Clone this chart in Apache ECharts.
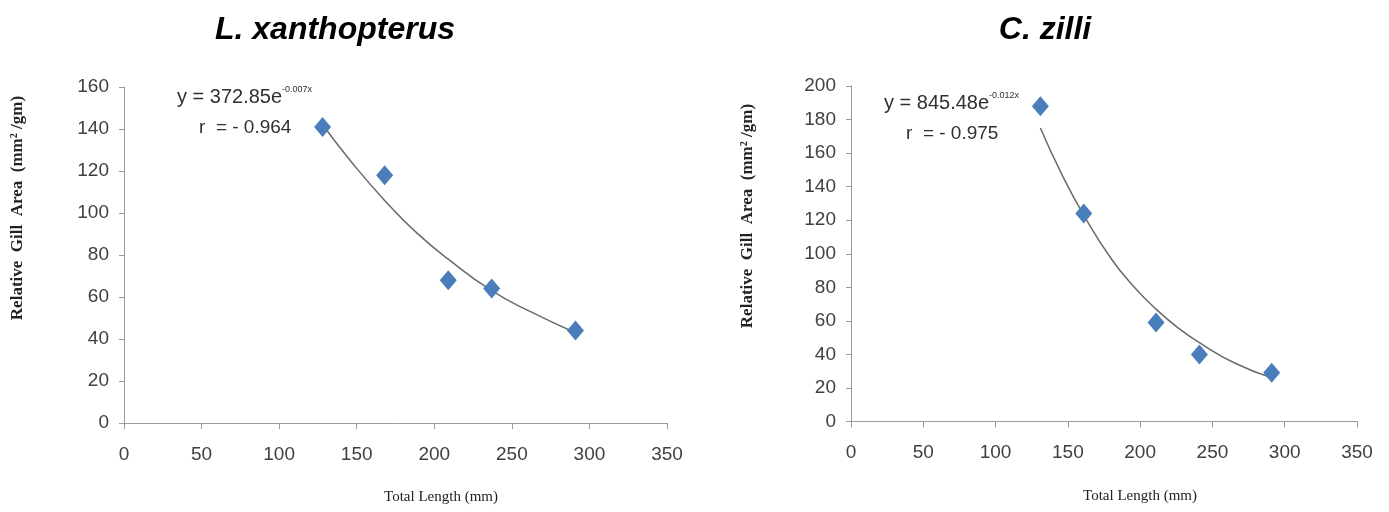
<!DOCTYPE html>
<html><head><meta charset="utf-8">
<script src="https://cdn.jsdelivr.net/npm/echarts@6/dist/echarts.min.js"></script>
<style>html,body{margin:0;padding:0;background:#fff}#c{width:1389px;height:512px}</style>
</head><body><div id="c"></div>
<script>
// L. xanthopterus
const lxLength = [128, 168, 209, 237, 291];
const lxArea   = [141, 118, 68, 64, 44];
const lxFitLength = [128, 148, 168, 188, 209, 237, 262, 291];
const lxFitArea   = [142, 123, 106, 91, 78, 63, 53, 43];
// C. zilli
const czLength = [131, 161, 211, 241, 291];
const czArea   = [188, 124, 59, 40, 29];
const czFitLength = [131, 146, 161, 180, 196, 211, 226, 241, 265, 291];
const czFitArea   = [175, 147, 123, 97, 80, 67, 56, 47, 35, 26];

const titles = ['L. xanthopterus', 'C. zilli'];
const equations = [['y = 372.85e', '-0.007x', 'r  = - 0.964'], ['y = 845.48e', '-0.012x', 'r  = - 0.975']];
const xName = 'Total Length (mm)';
const yName = 'Relative  Gill  Area  (mm\u00B2 /gm)';

const pairs = (xs, ys) => xs.map((x, i) => [x, ys[i]]);

const tickFont = {fontFamily: 'Liberation Sans', fontSize: 19, color: '#404040'};
const axisColor = '#9a9a9a';

function xAxisCfg(gi) {
  return {
    type: 'value', gridIndex: gi, min: 0, max: 350, interval: 50,
    axisLine: {show: true, lineStyle: {color: axisColor, width: 1}},
    axisTick: {show: true, length: 6, lineStyle: {color: axisColor}},
    splitLine: {show: false},
    axisLabel: Object.assign({margin: 22}, tickFont)
  };
}
function yAxisCfg(gi, max) {
  return {
    type: 'value', gridIndex: gi, min: 0, max: max, interval: 20,
    axisLine: {show: true, lineStyle: {color: axisColor, width: 1}},
    axisTick: {show: true, length: 5, lineStyle: {color: axisColor}},
    splitLine: {show: false},
    axisLabel: Object.assign({margin: 15}, tickFont)
  };
}

function eqText(x, y, eq) {
  return [
    {type: 'text', left: x, top: y - 13, style: {
      text: '{a|' + eq[0] + '}{b|' + eq[1] + '}',
      rich: {
        a: {fontFamily: 'Liberation Sans', fontSize: 20, lineHeight: 24, fill: '#303030'},
        b: {fontFamily: 'Liberation Sans', fontSize: 9, lineHeight: 12, verticalAlign: 'top', fill: '#303030'}
      }
    }},
    {type: 'text', left: x + 22, top: y + 20, style: {
      text: eq[2], fontFamily: 'Liberation Sans', fontSize: 19, fill: '#303030'
    }}
  ];
}

const chart = echarts.init(document.getElementById('c'), null, {renderer: 'canvas'});
const titleStyle = {fontFamily: 'Liberation Sans', fontSize: 32, fontWeight: 'bold', fontStyle: 'italic', fill: '#000'};
const serifName = {fontFamily: 'Liberation Serif', fontSize: 15, fill: '#222'};
const serifY = {fontFamily: 'Liberation Serif', fontSize: 17, fontWeight: 'bold', fill: '#222'};

chart.setOption({
  animation: false,
  backgroundColor: '#fff',
  grid: [
    {left: 124, top: 87, width: 543, height: 336},
    {left: 851, top: 86, width: 506, height: 335.5}
  ],
  xAxis: [xAxisCfg(0), xAxisCfg(1)],
  yAxis: [yAxisCfg(0, 160), yAxisCfg(1, 200)],
  graphic: [
    {type: 'text', x: 335, y: 30, style: Object.assign({text: titles[0], textAlign: 'center', textVerticalAlign: 'middle'}, titleStyle)},
    {type: 'text', x: 1045, y: 30, style: Object.assign({text: titles[1], textAlign: 'center', textVerticalAlign: 'middle'}, titleStyle)},
    {type: 'text', x: 441, y: 497, style: Object.assign({text: xName, textAlign: 'center', textVerticalAlign: 'middle'}, serifName)},
    {type: 'text', x: 1140, y: 496, style: Object.assign({text: xName, textAlign: 'center', textVerticalAlign: 'middle'}, serifName)},
    {type: 'text', x: 18, y: 208, rotation: Math.PI / 2, style: Object.assign({text: yName, textAlign: 'center', textVerticalAlign: 'middle'}, serifY)},
    {type: 'text', x: 748, y: 216, rotation: Math.PI / 2, style: Object.assign({text: yName, textAlign: 'center', textVerticalAlign: 'middle'}, serifY)}
  ].concat(eqText(177, 98, equations[0]), eqText(884, 104, equations[1])),
  series: [
    {type: 'line', xAxisIndex: 0, yAxisIndex: 0, data: pairs(lxFitLength, lxFitArea), smooth: true, symbol: 'none',
     lineStyle: {color: '#6a6a6a', width: 1.5}, z: 2},
    {type: 'scatter', xAxisIndex: 0, yAxisIndex: 0, data: pairs(lxLength, lxArea), symbol: 'diamond', symbolSize: [17, 20],
     itemStyle: {color: '#4a7ebb', opacity: 1}, z: 3},
    {type: 'line', xAxisIndex: 1, yAxisIndex: 1, data: pairs(czFitLength, czFitArea), smooth: true, symbol: 'none',
     lineStyle: {color: '#6a6a6a', width: 1.5}, z: 2},
    {type: 'scatter', xAxisIndex: 1, yAxisIndex: 1, data: pairs(czLength, czArea), symbol: 'diamond', symbolSize: [17, 20],
     itemStyle: {color: '#4a7ebb', opacity: 1}, z: 3}
  ]
});
</script></body></html>
